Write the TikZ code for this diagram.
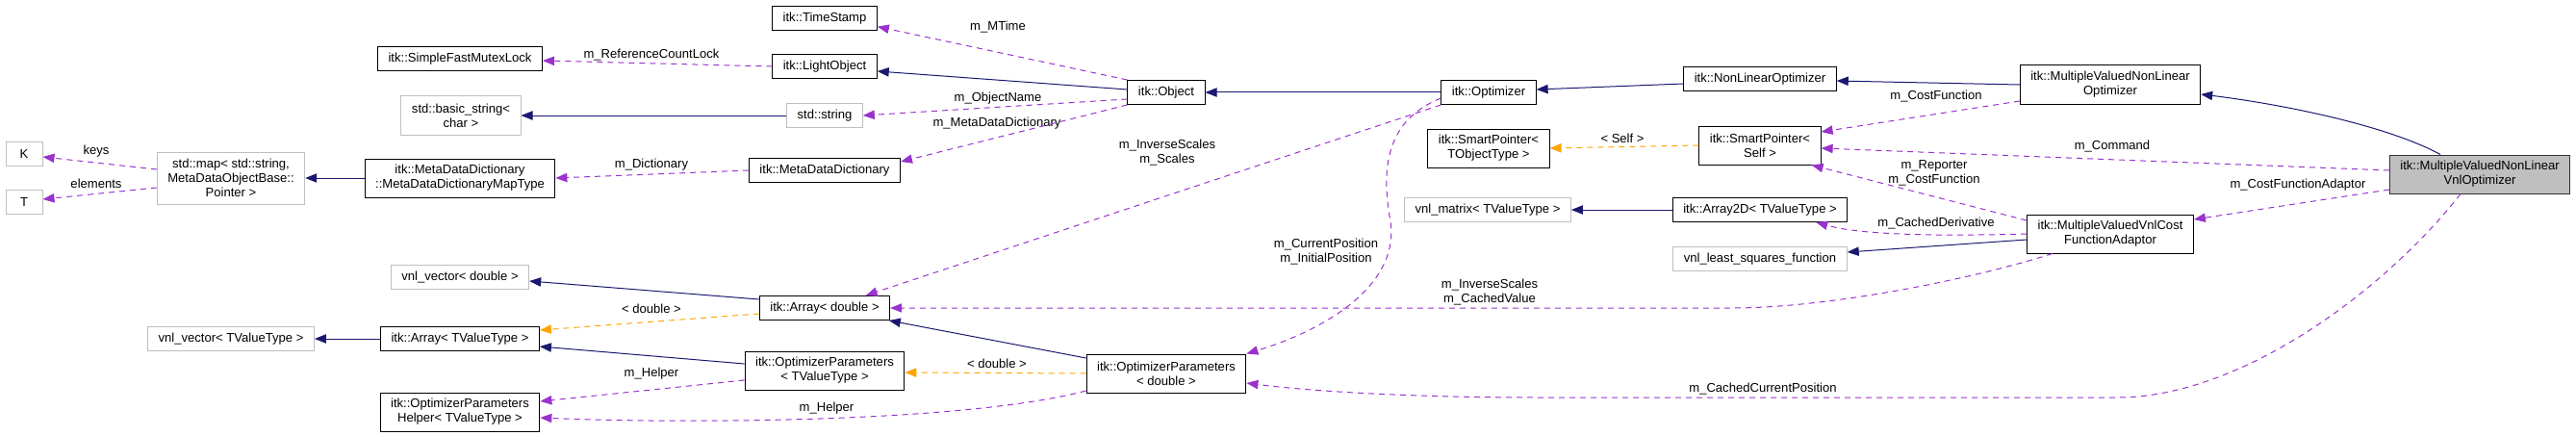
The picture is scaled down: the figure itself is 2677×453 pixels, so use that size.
\documentclass[tikz,border=0pt]{standalone}
\usepackage{fontspec}
\setmainfont{Liberation Sans}
\usepackage{xcolor}
\usepackage{tikz}
\usetikzlibrary{positioning,arrows.meta}
\definecolor{navyedge}{HTML}{191970}
\definecolor{purpleedge}{HTML}{9A32CD}
\definecolor{orangeedge}{HTML}{FFA500}
\definecolor{greybox}{HTML}{BFBFBF}
\newcommand{\dxfont}{\fontsize{9.8}{11.25}\selectfont}
\tikzset{
  cls/.style={rectangle, draw=black, fill=white, line width=0.75pt, inner xsep=8.25pt, inner ysep=0pt, minimum height=18.75pt, align=center, font=\dxfont},
  ext/.style={cls, draw=greybox},
  mainc/.style={cls, fill=greybox, draw=black!80},
  two/.style={minimum height=30pt},
  three/.style={minimum height=40.5pt},
  inh/.style={draw=navyedge, line width=0.75pt, -{Triangle[length=9pt, width=7pt]}},
  dep/.style={draw=purpleedge, line width=0.75pt, dash pattern=on 4.5pt off 3.75pt, -{Triangle[length=9pt, width=7pt]}},
  tmpl/.style={draw=orangeedge, line width=0.75pt, dash pattern=on 4.5pt off 3.75pt, -{Triangle[length=9pt, width=7pt]}},
  lbl/.style={font=\dxfont, align=center, inner sep=0pt},
  collab/.style={x=0.75pt, y=-0.75pt}
}

\begin{document}
\begin{tikzpicture}[collab]
        \useasboundingbox (0,0) rectangle (2677,453);
        % classes
        \node[ext, minimum width=28.5pt] (K) at (25,160) {K};
        \node[ext, minimum width=28.5pt] (T) at (25,210) {T};
        \node[ext, three] (stdmap) at (240,185) {std::map< std::string,\\ MetaDataObjectBase::\\ Pointer >};
        \node[cls] (mutex) at (478,61) {itk::SimpleFastMutexLock};
        \node[ext, two] (bstring) at (479,120) {std::basic\_string<\\ char >};
        \node[cls, two] (maptype) at (478,185) {itk::MetaDataDictionary\\ ::MetaDataDictionaryMapType};
        \node[ext] (vvdouble) at (478,288) {vnl\_vector< double >};
        \node[ext] (vvtv) at (240,352) {vnl\_vector< TValueType >};
        \node[cls] (arrtv) at (478,352) {itk::Array< TValueType >};
        \node[cls, two] (helper) at (478,428) {itk::OptimizerParameters\\ Helper< TValueType >};
        \node[cls] (tstamp) at (857,19) {itk::TimeStamp};
        \node[cls] (lightobj) at (857,69) {itk::LightObject};
        \node[ext] (stdstring) at (857,120) {std::string};
        \node[cls] (mdd) at (857,177) {itk::MetaDataDictionary};
        \node[cls] (arrdouble) at (857,320) {itk::Array< double >};
        \node[cls, two] (optptv) at (857,385) {itk::OptimizerParameters\\ < TValueType >};
        \node[cls] (object) at (1212,96) {itk::Object};
        \node[cls, two] (optpd) at (1212,388) {itk::OptimizerParameters\\ < double >};
        \node[cls] (optimizer) at (1547,96) {itk::Optimizer};
        \node[cls, two] (spto) at (1547,154) {itk::SmartPointer<\\ TObjectType >};
        \node[ext] (vmatrix) at (1546,218) {vnl\_matrix< TValueType >};
        \node[cls] (nlo) at (1829,82) {itk::NonLinearOptimizer};
        \node[cls, two] (spself) at (1829,151) {itk::SmartPointer<\\ Self >};
        \node[cls] (array2d) at (1829,218) {itk::Array2D< TValueType >};
        \node[ext] (vlsf) at (1829,269) {vnl\_least\_squares\_function};
        \node[cls, two] (mvnlo) at (2193,88) {itk::MultipleValuedNonLinear\\ Optimizer};
        \node[cls, two] (adaptor) at (2193,243) {itk::MultipleValuedVnlCost\\ FunctionAdaptor};
        \node[mainc, two] (main) at (2577,181) {itk::MultipleValuedNonLinear\\ VnlOptimizer};
        % labels
        \node[lbl] (lkeys) at (100,157) {keys};
        \node[lbl] (lelem) at (100,191) {elements};
        \node[lbl] (lrefc) at (677,57) {m\_ReferenceCountLock};
        \node[lbl] (ldict) at (677,171) {m\_Dictionary};
        \node[lbl] (ldbla) at (677,321) {< double >};
        \node[lbl] (lhelpa) at (677,388) {m\_Helper};
        \node[lbl] (lmtime) at (1037,28) {m\_MTime};
        \node[lbl] (lobjname) at (1037,102) {m\_ObjectName};
        \node[lbl] (lmdd) at (1036,128) {m\_MetaDataDictionary};
        \node[lbl] (ldblb) at (1036,378) {< double >};
        \node[lbl] (lhelpb) at (859,424) {m\_Helper};
        \node[lbl] (lscales) at (1213,159) {m\_InverseScales\\ m\_Scales};
        \node[lbl] (lpos) at (1378,262) {m\_CurrentPosition\\ m\_InitialPosition};
        \node[lbl] (lcached) at (1548,304) {m\_InverseScales\\ m\_CachedValue};
        \node[lbl] (lself) at (1686,144) {< Self >};
        \node[lbl] (lcostf) at (2012,100) {m\_CostFunction};
        \node[lbl] (lrep) at (2010,180) {m\_Reporter\\ m\_CostFunction};
        \node[lbl] (lderiv) at (2012,232) {m\_CachedDerivative};
        \node[lbl] (lcmd) at (2195,152) {m\_Command};
        \node[lbl] (ladapt) at (2388,192) {m\_CostFunctionAdaptor};
        \node[lbl] (lccpos) at (1832,404) {m\_CachedCurrentPosition};
        % inheritance
        \draw[inh] (maptype.west) -- (stdmap.east);
        \draw[inh] (stdstring.west) -- (bstring.east);
        \draw[inh] ([yshift=2.25pt]object.west) -- ([yshift=-3.75pt]lightobj.east);
        \draw[inh] (optimizer.west) -- (object.east);
        \draw[inh] ([yshift=-3.75pt]nlo.west) -- ([yshift=2.25pt]optimizer.east);
        \draw[inh] (mvnlo.west) -- ([yshift=-1.5pt]nlo.east);
        \draw[inh] ([xshift=-30.75pt]main.north) .. controls (2480,130) and (2370,108) .. ([yshift=-7.5pt]mvnlo.east);
        \draw[inh] (array2d.west) -- (vmatrix.east);
        \draw[inh] ([yshift=-4.5pt]adaptor.west) -- ([yshift=5.25pt]vlsf.east);
        \draw[inh] ([yshift=6.75pt]arrdouble.west) -- ([yshift=-3pt]vvdouble.east);
        \draw[inh] ([yshift=12pt]optpd.west) -- ([xshift=-1pt]arrdouble.south east);
        \draw[inh] ([yshift=5.25pt]optptv.west) -- ([yshift=-6pt]arrtv.east);
        \draw[inh] (arrtv.west) -- (vvtv.east);
        % templates
        \draw[tmpl] (spself.west) -- (spto.east);
        \draw[tmpl] ([yshift=-4.5pt]arrdouble.west) -- ([yshift=6.75pt]arrtv.east);
        \draw[tmpl] (optpd.west) -- ([yshift=-1.5pt]optptv.east);
        % members
        \draw[dep] ([yshift=6.75pt]stdmap.west) -- ([yshift=-2.25pt]K.east);
        \draw[dep] ([yshift=-7.5pt]stdmap.west) -- ([yshift=2.25pt]T.east);
        \draw[dep] (lightobj.west) -- ([yshift=-1.5pt]mutex.east);
        \draw[dep] (mdd.west) -- (maptype.east);
        \draw[dep] (object.north west) -- ([yshift=-6.5pt]tstamp.east);
        \draw[dep] ([yshift=-5.25pt]object.west) -- (stdstring.east);
        \draw[dep] (object.south west) -- ([yshift=6.75pt]mdd.east);
        \draw[dep] (optimizer.south west) -- ([xshift=32pt]arrdouble.north);
        \draw[dep] ([yshift=-4.5pt]optimizer.west) .. controls (1440,125) and (1435,175) .. (1445,230) .. controls (1455,300) and (1370,345) .. (optpd.north east);
        \draw[dep] ([yshift=-7.5pt]optptv.west) -- ([yshift=8.25pt]helper.east);
        \draw[dep] ([yshift=-13.5pt]optpd.west) .. controls (1000,440) and (700,440) .. ([yshift=-4.5pt]helper.east);
        \draw[dep] ([yshift=-12.75pt]mvnlo.west) -- ([yshift=10.5pt]spself.east);
        \draw[dep] ([yshift=3pt]main.west) -- ([yshift=-2.25pt]spself.east);
        \draw[dep] ([yshift=10.5pt]adaptor.west) -- ([xshift=-7.5pt]spself.south east);
        \draw[dep] (adaptor.west) .. controls (2000,246) and (1930,243) .. ([xshift=-24.75pt]array2d.south east);
        \draw[dep] ([xshift=-45pt]adaptor.south) .. controls (2050,290) and (1900,320) .. (1800,320) -- (arrdouble.east);
        \draw[dep] ([yshift=-12pt]main.west) -- ([yshift=11.25pt]adaptor.east);
        \draw[dep] ([xshift=-15pt]main.south) .. controls (2480,300) and (2330,413) .. (2200,413) -- (1600,413) .. controls (1450,413) and (1350,405) .. ([yshift=-7.5pt]optpd.east);
\end{tikzpicture}
\end{document}
